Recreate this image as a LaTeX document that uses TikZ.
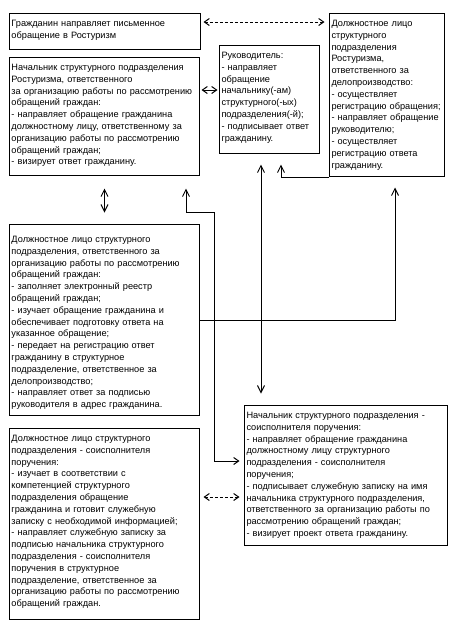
\documentclass[tikz,border=0pt]{standalone}
\usepackage{fontspec}
\setmainfont{Liberation Sans}
\usetikzlibrary{arrows.meta, calc}

\begin{document}
\begin{tikzpicture}[
  x=1pt, y=-1pt,
  % chevron tips, like the text arrows of the scheme
  vtip/.tip={Straight Barb[length=7pt, width=7pt, sep=2.5pt]},
  htip/.tip={Straight Barb[length=5pt, width=7pt, sep=0.5pt]},
  % box style
  cellbox/.style={
    draw, line width=1pt, anchor=north west, align=left,
    inner xsep=2pt, inner ysep=0pt, text height=13pt,
    font=\fontsize{9.2}{11.8}\selectfont
  },
  % connectors
  conn/.style={line width=1pt},
  dashlink/.style={conn, htip-htip, dash pattern=on 3.5pt off 1.5pt}
]
\useasboundingbox (0,0) rectangle (458,630);

% ─── Top row ────────────────────────────────────────────────────────────────
\node[cellbox, text width=187pt, text depth=23pt] (citizen) at (9,13) {
  Гражданин направляет письменное\\
  обращение в Ростуризм};

\node[cellbox, text width=111pt, text depth=150pt] (clerk) at (329,13) {
  Должностное лицо\\
  структурного\\
  подразделения\\
  Ростуризма,\\
  ответственного за\\
  делопроизводство:\\
  - осуществляет\\
  регистрацию обращения;\\
  - направляет обращение\\
  руководителю;\\
  - осуществляет\\
  регистрацию ответа\\
  гражданину.};

\node[cellbox, text width=186pt, text depth=105pt] (chief) at (9,57) {
  Начальник структурного подразделения\\
  Ростуризма, ответственного\\
  за организацию работы по рассмотрению\\
  обращений граждан:\\
  - направляет обращение гражданина\\
  должностному лицу, ответственному за\\
  организацию работы по рассмотрению\\
  обращений граждан;\\
  - визирует ответ гражданину.};

\node[cellbox, text width=96pt, text depth=95pt] (director) at (219,45) {
  Руководитель:\\
  - направляет\\
  обращение\\
  начальнику(-ам)\\
  структурного(-ых)\\
  подразделения(-й);\\
  - подписывает ответ\\
  гражданину.};

% ─── Middle ─────────────────────────────────────────────────────────────────
\node[cellbox, text width=186pt, text height=18pt, text depth=173pt] (officer)
  at (9,224) {
  Должностное лицо структурного\\
  подразделения, ответственного за\\
  организацию работы по рассмотрению\\
  обращений граждан:\\
  - заполняет электронный реестр\\
  обращений граждан;\\
  - изучает обращение гражданина и\\
  обеспечивает подготовку ответа на\\
  указанное обращение;\\
  - передает на регистрацию ответ\\
  гражданину в структурное\\
  подразделение, ответственное за\\
  делопроизводство;\\
  - направляет ответ за подписью\\
  руководителя в адрес гражданина.};

% ─── Bottom row ─────────────────────────────────────────────────────────────
\node[cellbox, text width=199pt, text depth=127pt] (cochief) at (244,405) {
  Начальник структурного подразделения -\\
  соисполнителя поручения:\\
  - направляет обращение гражданина\\
  должностному лицу структурного\\
  подразделения - соисполнителя\\
  поручения;\\
  - подписывает служебную записку на имя\\
  начальника структурного подразделения,\\
  ответственного за организацию работы по\\
  рассмотрению обращений граждан;\\
  - визирует проект ответа гражданину.};

\node[cellbox, text width=186pt, text depth=178pt] (coofficer) at (9,428) {
  Должностное лицо структурного\\
  подразделения - соисполнителя\\
  поручения:\\
  - изучает в соответствии с\\
  компетенцией структурного\\
  подразделения обращение\\
  гражданина и готовит служебную\\
  записку с необходимой информацией;\\
  - направляет служебную записку за\\
  подписью начальника структурного\\
  подразделения - соисполнителя\\
  поручения в структурное\\
  подразделение, ответственное за\\
  организацию работы по рассмотрению\\
  обращений граждан.};

% ─── Connectors ─────────────────────────────────────────────────────────────
\draw[dashlink] ([shift={(2,9)}]citizen.north east)
  -- ([shift={(-4,9)}]clerk.north west);
\draw[conn, htip-htip] ([shift={(1,33)}]chief.north east)
  -- ([shift={(-1,45)}]director.north west);
\draw[conn, vtip-vtip] ([shift={(0,10)}]chief.south)
  -- ([shift={(0,-9)}]officer.north);
\draw[conn, vtip-htip] ([shift={(-14,10)}]chief.south east)
  |- ([shift={(14,-12)}]officer.north east)
  |- ([shift={(-4,56)}]cochief.north west);
\draw[conn, vtip-vtip] ([shift={(42,8)}]director.south west)
  -- ([shift={(17,-9)}]cochief.north west);
\draw[conn, -vtip] (clerk.south west)
  -| ([shift={(62,8)}]director.south west);
\draw[conn, -vtip] ([shift={(0,96)}]officer.north east)
  -| ([shift={(66,8)}]clerk.south west);
\draw[dashlink] ([shift={(3,69)}]coofficer.north east)
  -- ([shift={(-4,92)}]cochief.north west);

\end{tikzpicture}
\end{document}
